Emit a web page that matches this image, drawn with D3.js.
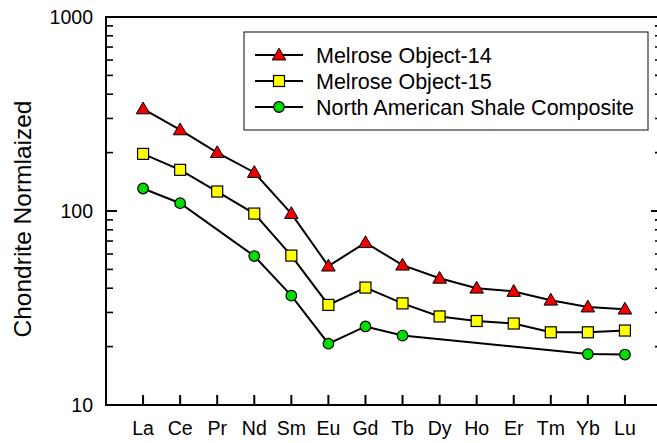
<!DOCTYPE html>
<html><head><meta charset="utf-8">
<script src="https://cdn.jsdelivr.net/npm/d3@7"></script>
<style>body{margin:0;background:#fff}svg{display:block}text{font-family:"Liberation Sans",Arial,sans-serif}</style>
</head><body><svg id="c" width="657" height="443"></svg>
<script>
const elements = ["La","Ce","Pr","Nd","Sm","Eu","Gd","Tb","Dy","Ho","Er","Tm","Yb","Lu"];
const object14 = [336,262,200,158,97,52,68.7,52.6,45,40,38.5,34.7,32,31.2];
const object15 = [197,163,126,97,58.9,32.8,40.3,33.4,28.6,27.1,26.3,23.7,23.7,24.2];
const nasc = [130.6,109.7,null,58.6,36.6,20.7,25.4,22.8,null,null,null,null,18.3,18.2];
const seriesNames = ["Melrose Object-14","Melrose Object-15","North American Shale Composite"];
const yTickLabels = [10,100,1000];

const svg = d3.select("#c");
const L=106, R=662, T=17, B=405;
const x = d3.scaleLinear().domain([-1, elements.length]).range([L, R]);
const y = d3.scaleLog().domain([10,1000]).range([B, T]);

// frame
svg.append("rect").attr("x",L).attr("y",T).attr("width",R-L).attr("height",B-T)
  .attr("fill","none").attr("stroke","#000").attr("stroke-width",2);

// y ticks (left and right, inward)
const minor = [];
for (let d=10; d<1000; d*=10) for (let k=2;k<=9;k++) minor.push(d*k);
const gt = svg.append("g").attr("stroke","#000").attr("stroke-width",1.6);
minor.forEach(v=>{
  gt.append("line").attr("x1",L).attr("x2",L+7).attr("y1",y(v)).attr("y2",y(v));
  gt.append("line").attr("x1",R).attr("x2",R-7).attr("y1",y(v)).attr("y2",y(v));
});
yTickLabels.forEach(v=>{
  gt.append("line").attr("x1",L).attr("x2",L+11).attr("y1",y(v)).attr("y2",y(v)).attr("stroke-width",2);
  gt.append("line").attr("x1",R).attr("x2",R-11).attr("y1",y(v)).attr("y2",y(v)).attr("stroke-width",2);
  svg.append("text").attr("x",93).attr("y",y(v)).attr("dy","0.36em").attr("text-anchor","end")
    .attr("font-size",19.5).text(v);
});
// x ticks
elements.forEach((e,i)=>{
  gt.append("line").attr("x1",x(i)).attr("x2",x(i)).attr("y1",B).attr("y2",B-10).attr("stroke-width",2);
  svg.append("text").attr("x",x(i)).attr("y",435).attr("text-anchor","middle").attr("font-size",19.5).text(e);
});
// y title
svg.append("text").attr("transform","translate(31,219) rotate(-90)").attr("text-anchor","middle")
  .attr("font-size",24.5).text("Chondrite Normlaized");

const series = [
  {vals:object14, shape:"tri", color:"#ee0000"},
  {vals:object15, shape:"sq", color:"#ffff00"},
  {vals:nasc, shape:"circ", color:"#00dd00"}
];
const line = d3.line().x(d=>x(d.i)).y(d=>y(d.v));
function marker(g, shape, color, cx, cy){
  if (shape==="tri") g.append("path").attr("d",d3.symbol(d3.symbolTriangle,80)()).attr("transform",`translate(${cx},${cy+1})`)
      .attr("fill",color).attr("stroke","#000").attr("stroke-width",1);
  else if (shape==="sq") g.append("rect").attr("x",cx-5.5).attr("y",cy-5.5).attr("width",11).attr("height",11)
      .attr("fill",color).attr("stroke","#000").attr("stroke-width",1.2);
  else g.append("circle").attr("cx",cx).attr("cy",cy).attr("r",5.3)
      .attr("fill",color).attr("stroke","#000").attr("stroke-width",1.2);
}
series.forEach(s=>{
  const pts = s.vals.map((v,i)=>({i,v})).filter(d=>d.v!=null);
  svg.append("path").attr("d",line(pts)).attr("fill","none").attr("stroke","#000").attr("stroke-width",2);
  const g = svg.append("g");
  pts.forEach(d=>marker(g, s.shape, s.color, x(d.i), y(d.v)));
});

// legend
const lg = svg.append("g");
lg.append("rect").attr("x",244).attr("y",32).attr("width",404).attr("height",98)
  .attr("fill","#fff").attr("stroke","#333").attr("stroke-width",1.2);
series.forEach((s,k)=>{
  const yy = 55 + k*26;
  lg.append("line").attr("x1",255).attr("x2",303).attr("y1",yy).attr("y2",yy).attr("stroke","#000").attr("stroke-width",2);
  marker(lg, s.shape, s.color, 279, yy);
  lg.append("text").attr("x",316).attr("y",yy).attr("dy","0.36em").attr("font-size",21.5).text(seriesNames[k]);
});
</script></body></html>
